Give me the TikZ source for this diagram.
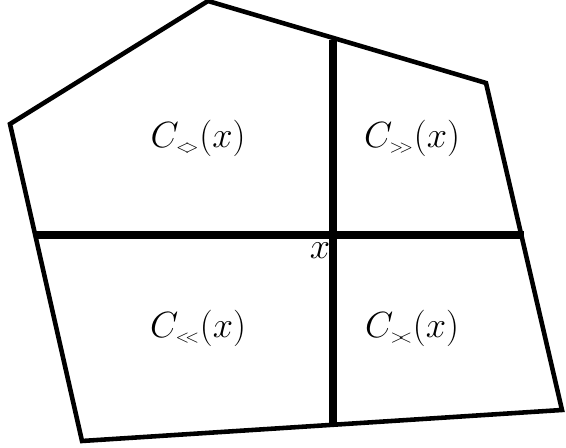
\documentclass[tikz,border=0pt]{standalone}
\usetikzlibrary{calc}
\tikzset{
    rim/.style={line width=2.6pt, line join=miter},
    cut/.style={line width=4.2pt},
    celllabel/.style={font=\fontsize{20}{22}\selectfont, inner sep=0pt}
}
\newcommand{\sub}[1]{_{\scriptscriptstyle #1}}

\begin{document}
\begin{tikzpicture}[x=0.02cm, y=-0.02cm]
	\useasboundingbox (0,0) rectangle (566,448);
	
	\coordinate (tp) at (208,1);
	\coordinate (tr) at (486,83);
	\coordinate (br) at (562,410);
	\coordinate (bl) at (82,441);
	\coordinate (lf) at (10,124);
	
	\draw[ rim ] (tp) -- (tr) -- (br) -- (bl) -- (lf) -- cycle;
	
	\coordinate (up) at (333,40);
	\coordinate (dn) at (333,425);
	\coordinate (we) at (36,235);
	\coordinate (ea) at (524,235);
	\draw[ cut ] (up) -- (dn);
	\draw[ cut ] (we) -- (ea);
	
	\node[ celllabel ] (nw) at (198,138) {$C\sub{<\mkern-5mu>}(x)$};
	\node[ celllabel ] (ne) at (412,138) {$C\sub{>\mkern-4mu>}(x)$};
	\node[ celllabel ] (sw) at (198,328) {$C\sub{<\mkern-4mu<}(x)$};
	\node[ celllabel ] (se) at (412,328) {$C\sub{>\mkern-6mu<}(x)$};
	\node[ celllabel ] (pt) at (320,251) {$x$};
	
\end{tikzpicture}
\end{document}
